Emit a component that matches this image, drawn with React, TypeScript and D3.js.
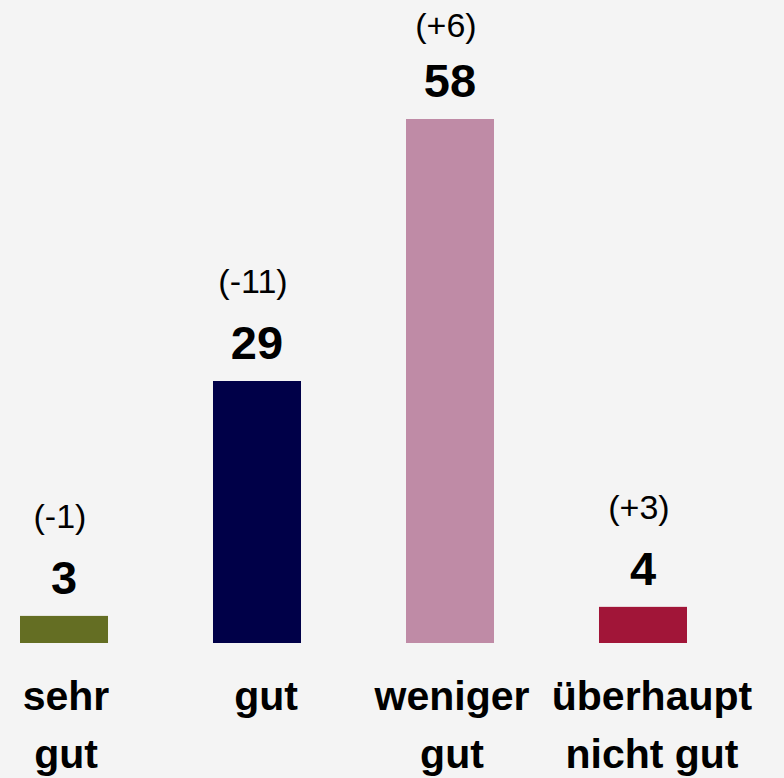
import React, { useEffect, useRef } from 'react';
import * as d3 from 'd3';

const categories = ['sehr gut', 'gut', 'weniger gut', 'überhaupt nicht gut'];
const labelLines = [['sehr', 'gut'], ['gut'], ['weniger', 'gut'], ['überhaupt', 'nicht gut']];
const values = [3, 29, 58, 4];
const changes = ['(-1)', '(-11)', '(+6)', '(+3)'];
const colors = ['#646e23', '#000048', '#bf8ba6', '#a11538'];

const App: React.FC = () => {
  const svgRef = useRef<SVGSVGElement>(null);

  useEffect(() => {
    document.body.style.margin = '0';
    if (!svgRef.current) return;

    const width = 784;
    const height = 778;
    const baseline = 643;
    const font = '"Liberation Sans", Arial, Helvetica, sans-serif';

    const svg = d3.select(svgRef.current);
    svg.selectAll('*').remove();

    svg.append('rect')
      .attr('width', width)
      .attr('height', height)
      .attr('fill', '#f4f4f4');

    const x = d3.scaleBand<string>()
      .domain(categories)
      .range([20, 687])
      .paddingInner(0.544)
      .paddingOuter(0);

    const y = d3.scaleLinear()
      .domain([0, 58])
      .range([baseline, 119]);

    const g = svg.append('g');

    // Bars
    g.selectAll('.bar')
      .data(values)
      .enter().append('rect')
      .attr('x', (_, i) => x(categories[i])!)
      .attr('y', d => y(d))
      .attr('width', x.bandwidth())
      .attr('height', d => baseline - y(d))
      .attr('fill', (_, i) => colors[i]);

    const cx = (i: number) => x(categories[i])! + x.bandwidth() / 2;

    // Value labels
    g.selectAll('.val')
      .data(values)
      .enter().append('text')
      .attr('x', (_, i) => cx(i))
      .attr('y', d => y(d) - 22)
      .attr('text-anchor', 'middle')
      .style('font-family', font)
      .style('font-size', '47px')
      .style('font-weight', 'bold')
      .attr('fill', '#000')
      .text(d => d);

    // Change labels (kept inside the top edge)
    g.selectAll('.chg')
      .data(values)
      .enter().append('text')
      .attr('x', (_, i) => cx(i) - 4)
      .attr('y', d => Math.max(y(d) - 88, 37))
      .attr('text-anchor', 'middle')
      .style('font-family', font)
      .style('font-size', '34px')
      .attr('fill', '#000')
      .text((_, i) => changes[i]);

    // Category labels
    labelLines.forEach((lines, i) => {
      const t = g.append('text')
        .attr('text-anchor', 'middle')
        .style('font-family', font)
        .style('font-size', '41px')
        .style('font-weight', 'bold')
        .attr('fill', '#000');
      lines.forEach((line, j) => {
        t.append('tspan')
          .attr('x', cx(i) + (i % 2 === 1 ? 9 : 2))
          .attr('y', 710 + j * 58)
          .text(line);
      });
    });
  }, []);

  return <svg ref={svgRef} width={784} height={778} style={{ display: 'block' }} />;
};

export default App;
